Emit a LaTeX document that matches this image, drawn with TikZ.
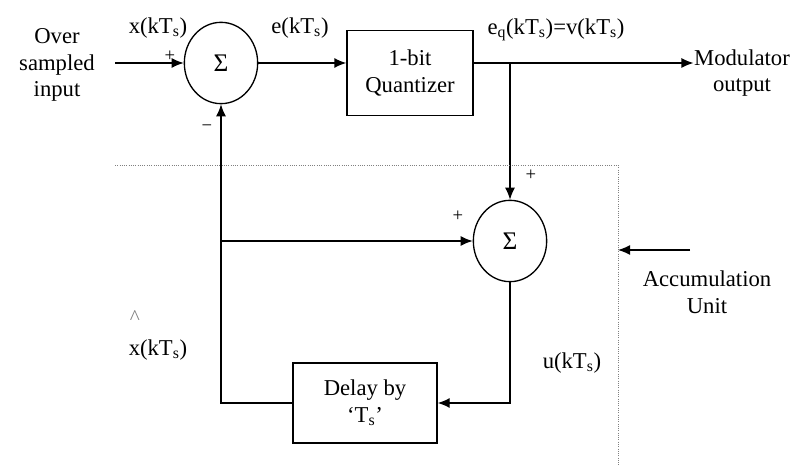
\documentclass[tikz,border=0pt]{standalone}
\usepackage{fontspec}
\setmainfont{Liberation Serif}
\usetikzlibrary{arrows.meta,shapes.geometric}

\begin{document}
\begin{tikzpicture}[x=0.75pt,y=-0.75pt,line width=1pt,
  every node/.style={font=\fontsize{17}{20}\selectfont},
  arr/.style={-{Latex[length=9pt,width=7.5pt]}},
  sumnode/.style={draw,ellipse,minimum width=55pt,minimum height=61pt,inner sep=0pt,font=\fontsize{19}{20}\selectfont},
  blk/.style={draw,rectangle,align=center,inner sep=0pt}]
\useasboundingbox (0,0) rectangle (799,466);
% the blocks
\node[sumnode] (s1) at (221,63) {Σ};
\node[sumnode] (s2) at (510,241) {Σ};
\node[blk,minimum width=94.5pt,minimum height=63.5pt] (q) at (410,73) {1-bit\\Quantizer};
\node[blk,minimum width=108pt,minimum height=60pt] (dly) at (365,403) {Delay by\\`T\textsubscript{s}'};
% texts
\node[align=center] (inp) at (57,65) {Over\\sampled\\input};
\node[align=center,inner sep=0pt] (out) at (742,73) {Modulator\\output};
\node[align=center] (acc) at (707,292) {Accumulation\\Unit};
\node (xk) at (158,28) {x(kT\textsubscript{s})};
\node (ek) at (300,28) {e(kT\textsubscript{s})};
\node (eq) at (556,30) {e\textsubscript{q}(kT\textsubscript{s})=v(kT\textsubscript{s})};
\node (uk) at (572,363) {u(kT\textsubscript{s})};
\node (xh) at (158,350) {x(kT\textsubscript{s})};
\node[font=\fontsize{16}{16}\selectfont,gray] (hat) at (135,318) {\textasciicircum};
% signs
\node[font=\fontsize{14}{14}\selectfont] (p1) at (170,56) {+};
\node[font=\fontsize{14}{14}\selectfont] (m1) at (207,128) {−};
\node[font=\fontsize{14}{14}\selectfont] (p2) at (531,175) {+};
\node[font=\fontsize{14}{14}\selectfont] (p3) at (458,216) {+};
% end points
\coordinate (xin) at (115,63);
\coordinate (br) at (510,63);
\coordinate (tap) at (221,241);
\coordinate (a0) at (690,250);
\coordinate (a1) at (618,250);
% the forward path
\draw[arr] (xin) -- (s1.west);
\draw[arr] (s1.east) -- (s1 -| q.west);
\draw[arr] (q.east |- s1) -- (out.west |- s1);
\draw[arr] (br) -- (s2.north);
% the feedback path
\draw[arr] (tap) -- (s2.west);
\draw[arr] (s2.south) |- (dly.east);
\draw[arr] (dly.west) -| (s1.south);
% the accumulation unit
\draw[densely dotted,line width=0.7pt,gray] (115,165) -- (618,165) -- (618,466);
\draw[arr] (a0) -- (a1);
\end{tikzpicture}
\end{document}
